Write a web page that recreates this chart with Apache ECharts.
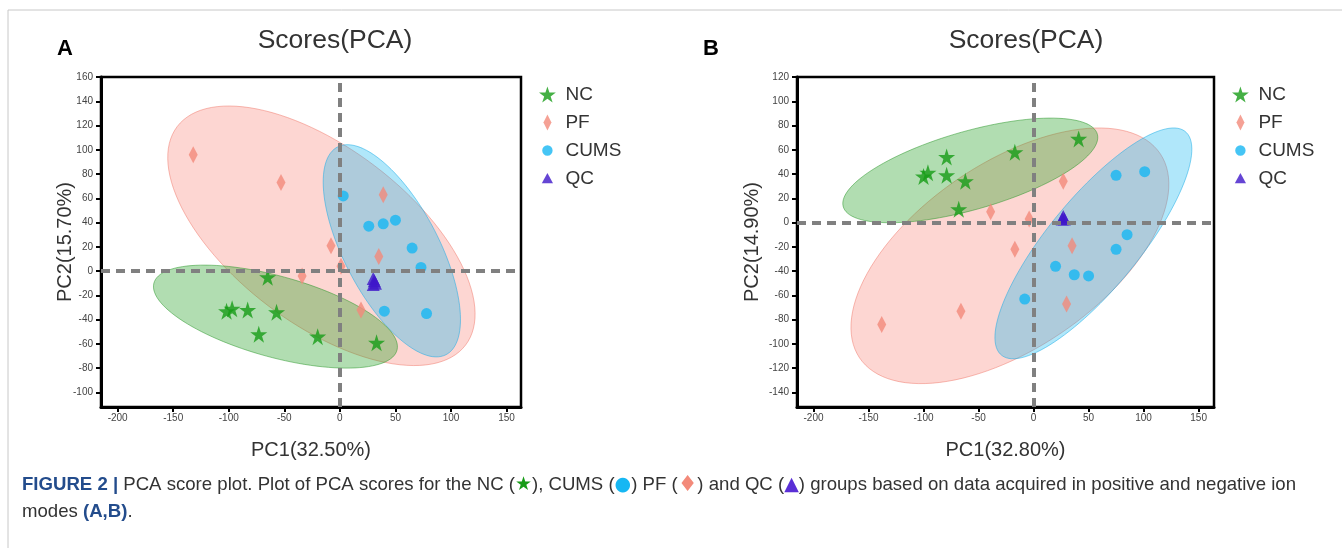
<!DOCTYPE html>
<html>
<head>
<meta charset="utf-8">
<script src="https://cdn.jsdelivr.net/npm/echarts@6/dist/echarts.min.js"></script>
<style>
html, body { margin: 0; padding: 0; background: #fff; }
#chart { width: 1342px; height: 548px; }
</style>
</head>
<body>
<div id="chart"></div>
<script>
// group names, in legend order
var groups = ['NC', 'PF', 'CUMS', 'QC'];

// panel A scores, [PC1, PC2]
var ncA = [[-65, -5], [-102, -33], [-97, -31], [-83, -32], [-73, -52], [-57, -34], [-20, -54], [33, -59]];
var pfA = [[-132, 96], [-53, 73], [39, 63], [-8, 21], [35, 12], [1, 4], [-34, -4], [19, -32]];
var cumsA = [[3, 62], [26, 37], [39, 39], [50, 42], [65, 19], [73, 3], [40, -33], [78, -35]];
var qcA = [[30, -6], [31, -8], [32, -10], [30, -11]];

// panel B scores, [PC1, PC2]
var ncB = [[-79, 54], [-100, 38], [-96, 41], [-79, 39], [-62, 34], [-68, 11], [-17, 58], [41, 69]];
var pfB = [[27, 34], [-39, 9], [-4, 3], [-17, -22], [35, -19], [-66, -73], [30, -67], [-138, -84]];
var cumsB = [[75, 39], [101, 42], [85, -10], [75, -22], [20, -36], [37, -43], [50, -44], [-8, -63]];
var qcB = [[26, 3], [27, 5], [28, 3]];

// tick labels
var xTicks = [-200, -150, -100, -50, 0, 50, 100, 150];
var yTicksA = [-100, -80, -60, -40, -20, 0, 20, 40, 60, 80, 100, 120, 140, 160];
var yTicksB = [-140, -120, -100, -80, -60, -40, -20, 0, 20, 40, 60, 80, 100, 120];

var FONT = '"Liberation Sans", Arial, sans-serif';
var colNC = '#179c17', colPF = '#f38a7a', colCUMS = '#16b7f3', colQC = '#3f16c9';

var starPath = 'path://M50,0L61.2,34.5L97.6,34.5L68.2,55.9L79.4,90.5L50,69.1L20.6,90.5L31.8,55.9L2.4,34.5L38.8,34.5Z';
var diamondPath = 'path://M5,0L10,10L5,20L0,10Z';
// padded icons so the legend draws them smaller than the item box
var circleIcon = 'path://M0,0L0,0M20,20L20,20M10,3.5A6.5,6.5,0,1,1,9.99,3.5Z';
var triangleIcon = 'path://M0,0L0,0M20,20L20,20M10,3L17,16L3,16Z';

// 95% confidence ellipse of a group (chi-square, 2 dof)
var K = Math.sqrt(5.991);
function ellipse(pts) {
    var n = pts.length, mx = 0, my = 0;
    pts.forEach(function (p) { mx += p[0]; my += p[1]; });
    mx /= n; my /= n;
    var sxx = 0, syy = 0, sxy = 0;
    pts.forEach(function (p) {
        var dx = p[0] - mx, dy = p[1] - my;
        sxx += dx * dx; syy += dy * dy; sxy += dx * dy;
    });
    sxx /= (n - 1); syy /= (n - 1); sxy /= (n - 1);
    var tr = (sxx + syy) / 2;
    var d = Math.sqrt((sxx - syy) * (sxx - syy) / 4 + sxy * sxy);
    var a = K * Math.sqrt(tr + d), b = K * Math.sqrt(Math.max(tr - d, 0));
    var th = 0.5 * Math.atan2(2 * sxy, sxx - syy);
    var ring = [];
    for (var i = 0; i < 120; i++) {
        var t = i / 120 * Math.PI * 2;
        ring.push([
            mx + a * Math.cos(t) * Math.cos(th) - b * Math.sin(t) * Math.sin(th),
            my + a * Math.cos(t) * Math.sin(th) + b * Math.sin(t) * Math.cos(th)
        ]);
    }
    return ring;
}

function ellSeries(pts, fill, stroke, idx) {
    var ring = ellipse(pts);
    return {
        type: 'custom', xAxisIndex: idx, yAxisIndex: idx, silent: true, z: 1,
        data: [[0, 0]],
        renderItem: function (params, api) {
            return {
                type: 'polygon',
                shape: { points: ring.map(function (p) { return api.coord(p); }) },
                style: { fill: fill, stroke: stroke, lineWidth: 1 }
            };
        }
    };
}

function dotSeries(name, data, idx) {
    var s = { type: 'scatter', name: name, data: data, xAxisIndex: idx, yAxisIndex: idx, z: 4, silent: true };
    if (name === 'NC') { s.symbol = starPath; s.symbolSize = 17; s.itemStyle = { color: colNC }; }
    if (name === 'PF') { s.symbol = 'diamond'; s.symbolSize = [9, 17]; s.itemStyle = { color: colPF }; }
    if (name === 'CUMS') { s.symbol = 'circle'; s.symbolSize = 11; s.itemStyle = { color: colCUMS }; }
    if (name === 'QC') { s.symbol = 'triangle'; s.symbolSize = 13; s.itemStyle = { color: colQC }; }
    return s;
}

function zeroLines(idx) {
    return {
        type: 'line', data: [], xAxisIndex: idx, yAxisIndex: idx, z: 2, silent: true,
        markLine: {
            silent: true, symbol: 'none', label: { show: false },
            lineStyle: { color: '#808080', width: 4, type: [9, 6], opacity: 1 },
            emphasis: { disabled: true },
            data: [{ xAxis: 0 }, { yAxis: 0 }]
        }
    };
}

function xAxis(idx, name, max) {
    return {
        type: 'value', gridIndex: idx, min: -215, max: max,
        name: name, nameLocation: 'middle', nameGap: 33, nameMoveOverlap: false,
        nameTextStyle: { fontSize: 20, color: '#333', fontFamily: FONT },
        axisLine: { onZero: false, lineStyle: { color: '#000', width: 3 } },
        axisTick: { show: true, length: 5, lineStyle: { color: '#000', width: 2 }, customValues: xTicks },
        axisLabel: { fontSize: 10, color: '#444', fontFamily: FONT, margin: 6, customValues: xTicks },
        splitLine: { show: false }
    };
}

function yAxis(idx, name, min, max, ticks, gap) {
    return {
        type: 'value', gridIndex: idx, min: min, max: max,
        name: name, nameLocation: 'middle', nameGap: gap, nameRotate: 90, nameMoveOverlap: false,
        nameTextStyle: { fontSize: 20, color: '#333', fontFamily: FONT },
        axisLine: { onZero: false, lineStyle: { color: '#000', width: 3 } },
        axisTick: { show: true, length: 5, lineStyle: { color: '#000', width: 2 }, customValues: ticks },
        axisLabel: { fontSize: 10, color: '#444', fontFamily: FONT, margin: 8, customValues: ticks },
        splitLine: { show: false }
    };
}

var legendData = [
    { name: 'NC', icon: starPath },
    { name: 'PF', icon: diamondPath },
    { name: 'CUMS', icon: circleIcon },
    { name: 'QC', icon: triangleIcon }
];
function legend(left) {
    return {
        left: left, top: 85, orient: 'vertical', padding: 0,
        itemWidth: 26, itemHeight: 16, itemGap: 9, selectedMode: false,
        textStyle: { fontSize: 19, color: '#333', fontFamily: FONT },
        data: legendData
    };
}

var fillPF = 'rgba(250,128,114,0.32)', fillCUMS = 'rgba(10,180,240,0.32)', fillNC = 'rgba(40,160,40,0.36)';
var edgePF = 'rgba(240,120,105,0.5)', edgeCUMS = 'rgba(20,170,230,0.5)', edgeNC = 'rgba(40,150,40,0.5)';

var chart = echarts.init(document.getElementById('chart'), null, { renderer: 'canvas' });
chart.setOption({
    backgroundColor: '#fff',
    animation: false,
    title: [
        { text: 'Scores(PCA)', left: 330, top: 22, textAlign: 'center',
          textStyle: { fontSize: 26.5, fontWeight: 'normal', color: '#333', fontFamily: FONT } },
        { text: 'Scores(PCA)', left: 1021, top: 22, textAlign: 'center',
          textStyle: { fontSize: 26.5, fontWeight: 'normal', color: '#333', fontFamily: FONT } }
    ],
    grid: [
        { left: 101, top: 77, width: 420, height: 330, show: true, borderColor: '#000', borderWidth: 2.5, containLabel: false },
        { left: 797, top: 77, width: 417, height: 330, show: true, borderColor: '#000', borderWidth: 2.5, containLabel: false }
    ],
    xAxis: [xAxis(0, 'PC1(32.50%)', 163), xAxis(1, 'PC1(32.80%)', 164)],
    yAxis: [yAxis(0, 'PC2(15.70%)', -112, 160, yTicksA, 26), yAxis(1, 'PC2(14.90%)', -152, 120, yTicksB, 35)],
    legend: [legend(539), legend(1232)],
    graphic: [
        { type: 'line', shape: { x1: 8, y1: 10, x2: 1342, y2: 10 }, style: { stroke: '#c8c8c8', lineWidth: 1 } },
        { type: 'line', shape: { x1: 8, y1: 10, x2: 8, y2: 548 }, style: { stroke: '#c8c8c8', lineWidth: 1 } },
        { type: 'text', left: 57, top: 38, style: { text: 'A', fontSize: 22, fontWeight: 'bold', fill: '#000', fontFamily: FONT } },
        { type: 'text', left: 703, top: 38, style: { text: 'B', fontSize: 22, fontWeight: 'bold', fill: '#000', fontFamily: FONT } },
        { type: 'text', left: 22, top: 474, style: {
            text: '{b|FIGURE 2 |} PCA score plot. Plot of PCA scores for the NC ({s|★}), CUMS ({c|●}) PF ({d|♦}) and QC ({t|▲}) groups based on data acquired in positive and negative ion',
            fontSize: 18.6, fill: '#333', fontFamily: FONT,
            rich: {
                b: { fontWeight: 'bold', fill: '#234c8c', fontSize: 18.6, fontFamily: FONT },
                s: { fill: colNC, fontSize: 19, fontFamily: '"DejaVu Sans"' },
                c: { fill: colCUMS, fontSize: 19, fontFamily: '"DejaVu Sans"' },
                d: { fill: colPF, fontSize: 22, fontFamily: '"DejaVu Sans"' },
                t: { fill: '#5a2fd6', fontSize: 19, fontFamily: '"DejaVu Sans"' }
            }
        } },
        { type: 'text', left: 22, top: 502, style: {
            text: 'modes {b|(A,B)}.', fontSize: 18.6, fill: '#333', fontFamily: FONT,
            rich: { b: { fontWeight: 'bold', fill: '#234c8c', fontSize: 18.6, fontFamily: FONT } }
        } }
    ],
    series: [
        ellSeries(pfA, fillPF, edgePF, 0),
        ellSeries(cumsA, fillCUMS, edgeCUMS, 0),
        ellSeries(ncA, fillNC, edgeNC, 0),
        zeroLines(0),
        dotSeries('NC', ncA, 0),
        dotSeries('PF', pfA, 0),
        dotSeries('CUMS', cumsA, 0),
        dotSeries('QC', qcA, 0),
        ellSeries(pfB, fillPF, edgePF, 1),
        ellSeries(cumsB, fillCUMS, edgeCUMS, 1),
        ellSeries(ncB, fillNC, edgeNC, 1),
        zeroLines(1),
        dotSeries('NC', ncB, 1),
        dotSeries('PF', pfB, 1),
        dotSeries('CUMS', cumsB, 1),
        dotSeries('QC', qcB, 1)
    ]
});
</script>
</body>
</html>
